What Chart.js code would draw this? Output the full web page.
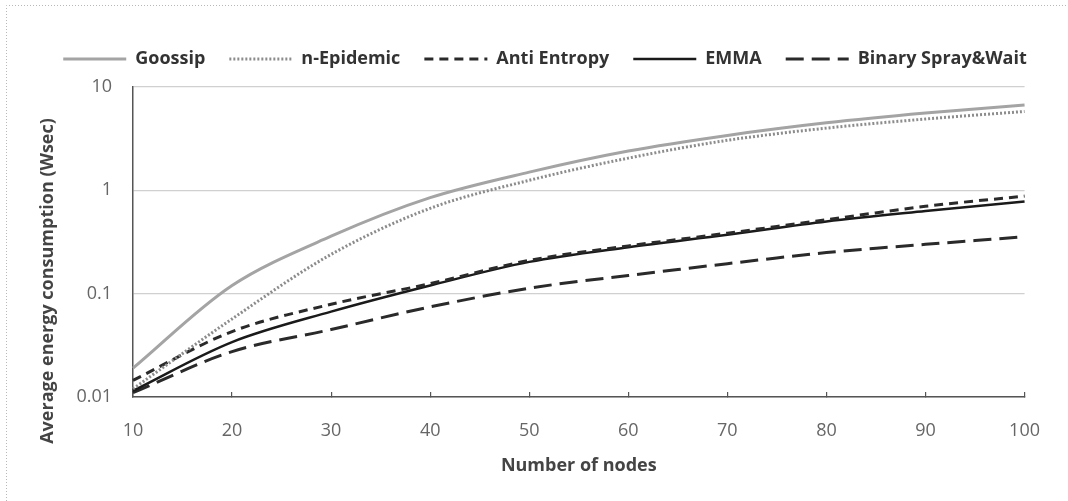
<!DOCTYPE html>
<html>
<head>
<meta charset="utf-8">
<script src="https://cdn.jsdelivr.net/npm/chart.js@4.4.1/dist/chart.umd.min.js"></script>
<style>
  html, body { margin: 0; padding: 0; background: #ffffff; }
  #wrap { width: 1068px; height: 501px; position: relative; }
  canvas { display: block; }
</style>
</head>
<body>
<div id="wrap"><canvas id="c" width="1068" height="501"></canvas></div>
<script>
// ---- data ----
const nodes = [10, 20, 30, 40, 50, 60, 70, 80, 90, 100];
const goossip     = [0.019, 0.12, 0.36, 0.85, 1.5, 2.4, 3.4, 4.5, 5.6, 6.7];
const nEpidemic   = [0.012, 0.057, 0.24, 0.67, 1.25, 2.05, 3.05, 4.0, 4.9, 5.8];
const antiEntropy = [0.0145, 0.043, 0.079, 0.125, 0.21, 0.29, 0.385, 0.52, 0.70, 0.88];
const emma        = [0.0115, 0.034, 0.067, 0.12, 0.203, 0.282, 0.372, 0.50, 0.63, 0.78];
const binarySW    = [0.011, 0.0275, 0.045, 0.0745, 0.113, 0.15, 0.195, 0.25, 0.30, 0.355];
const yTickValues = [0.01, 0.1, 1, 10];
const seriesNames = ['Goossip', 'n-Epidemic', 'Anti Entropy', 'EMMA', 'Binary Spray&Wait'];
const xTitle = 'Number of nodes';
const yTitle = 'Average energy consumption (Wsec)';

const FONT = '"Open Sans", "DejaVu Sans", sans-serif';

const framePlugin = {
  id: 'frame',
  beforeDraw(chart) {
    const ctx = chart.ctx;
    ctx.save();
    ctx.fillStyle = '#ffffff';
    ctx.fillRect(0, 0, chart.width, chart.height);
    ctx.strokeStyle = '#b8b8b8';
    ctx.lineWidth = 1;
    ctx.setLineDash([1, 2]);
    ctx.beginPath();
    ctx.moveTo(6.5, chart.height);
    ctx.lineTo(6.5, 5.5);
    ctx.lineTo(chart.width, 5.5);
    ctx.stroke();
    ctx.restore();
  }
};

const legendSpace = {
  id: 'legendSpace',
  afterInit(chart) {
    const lg = chart.legend;
    if (!lg) return;
    const f = lg.fit.bind(lg);
    lg.fit = function () { f(); this.height += 9; };
  }
};

const yTitlePlugin = {
  id: 'yTitle',
  afterDraw(chart) {
    const ctx = chart.ctx;
    ctx.save();
    ctx.translate(48, 281);
    ctx.rotate(-Math.PI / 2);
    ctx.textAlign = 'center';
    ctx.textBaseline = 'middle';
    ctx.font = 'bold 18px ' + FONT;
    ctx.fillStyle = '#444444';
    ctx.fillText(yTitle, 0, 0);
    ctx.restore();
  }
};

const common = { pointRadius: 0, pointHoverRadius: 0, pointStyle: 'line', fill: false, tension: 0.33 };

new Chart(document.getElementById('c'), {
  type: 'line',
  data: {
    labels: nodes,
    datasets: [
      Object.assign({ label: seriesNames[0], data: goossip, borderColor: '#a4a4a4', borderWidth: 3 }, common),
      Object.assign({ label: seriesNames[1], data: nEpidemic, borderColor: '#8c8c8c', borderWidth: 3, borderDash: [2, 2] }, common),
      Object.assign({ label: seriesNames[2], data: antiEntropy, borderColor: '#2a2a2a', borderWidth: 3, borderDash: [9, 6] }, common),
      Object.assign({ label: seriesNames[3], data: emma, borderColor: '#1a1a1a', borderWidth: 2.5 }, common),
      Object.assign({ label: seriesNames[4], data: binarySW, borderColor: '#2a2a2a', borderWidth: 3, borderDash: [18, 8] }, common)
    ]
  },
  options: {
    responsive: false,
    devicePixelRatio: 1,
    animation: false,
    layout: { padding: { top: 26, left: 22, right: 0, bottom: 0 } },
    plugins: {
      tooltip: { enabled: false },
      legend: {
        display: true,
        position: 'top',
        labels: {
          usePointStyle: true,
          pointStyle: 'line',
          pointStyleWidth: 63,
          padding: 24,
          color: '#333333',
          font: { family: FONT, size: 18, weight: 'bold' },
          generateLabels(chart) {
            return chart.data.datasets.map((ds, i) => ({
              text: ds.label,
              fillStyle: 'rgba(0,0,0,0)',
              strokeStyle: ds.borderColor,
              lineWidth: ds.borderWidth,
              lineDash: ds.borderDash || [],
              lineCap: 'butt',
              pointStyle: 'line',
              fontColor: '#333333',
              hidden: false,
              datasetIndex: i
            }));
          }
        }
      }
    },
    scales: {
      x: {
        type: 'category',
        offset: false,
        grid: { display: true, drawOnChartArea: false, drawTicks: true, tickLength: -5, color: '#555555', lineWidth: 1.2 },
        border: { display: true, color: '#555555', width: 1.5 },
        ticks: { color: '#666666', font: { family: FONT, size: 18 }, padding: 28, maxRotation: 0, autoSkip: false },
        title: { display: true, text: xTitle, color: '#444444', font: { family: FONT, size: 18, weight: 'bold' }, padding: { top: 0, bottom: 24 } },
        afterFit(s) { s.height = 104; }
      },
      y: {
        type: 'logarithmic',
        min: 0.01,
        max: 10,
        afterBuildTicks(s) { s.ticks = yTickValues.map(v => ({ value: v })); },
        grid: { color: '#d0d0d0', lineWidth: 1.2, drawTicks: false },
        border: { display: true, color: '#555555', width: 1.5 },
        ticks: { color: '#666666', font: { family: FONT, size: 18 }, padding: 21, callback: v => String(v) },
        afterFit(s) { s.width = 111; }
      },
      y2: {
        type: 'linear',
        position: 'right',
        display: true,
        min: 0,
        max: 1,
        grid: { display: false, drawOnChartArea: false },
        border: { display: false },
        ticks: { display: false },
        afterFit(s) { s.width = 38; }
      }
    }
  },
  plugins: [framePlugin, legendSpace, yTitlePlugin]
});
</script>
</body>
</html>
